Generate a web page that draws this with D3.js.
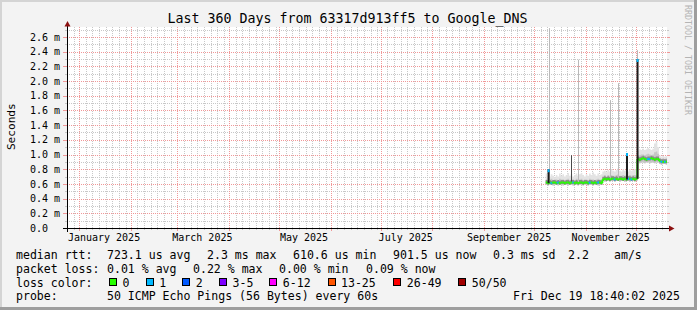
<!DOCTYPE html>
<html><head><meta charset="utf-8">
<script src="https://cdn.jsdelivr.net/npm/d3@7"></script>
<style>
html,body{margin:0;padding:0;background:#f3f3f3;}
svg{display:block;}
text{font-family:"DejaVu Sans Mono",monospace;fill:#000;}
</style></head><body>
<svg id="c" width="697" height="310"></svg>
<script>
// ---------------- DATA ----------------
const titleText = "Last 360 Days from 63317d913ff5 to Google_DNS";
const yAxisTitle = "Seconds";
const watermark = "RRDTOOL / TOBI OETIKER";
const rangeStart = "2024-12-24T18:40:02Z";
const rangeEnd = "2025-12-19T18:40:02Z";
const dataEnd = "2025-12-19T18:00:00Z";

const yTickValues = [0, 0.2, 0.4, 0.6, 0.8, 1.0, 1.2, 1.4, 1.6, 1.8, 2.0, 2.2, 2.4, 2.6];
const yTickLabels = ["0.0", "0.2 m", "0.4 m", "0.6 m", "0.8 m", "1.0 m", "1.2 m", "1.4 m", "1.6 m", "1.8 m", "2.0 m", "2.2 m", "2.4 m", "2.6 m"];

const days = [
 "2025-10-08","2025-10-09","2025-10-10","2025-10-11","2025-10-12","2025-10-13","2025-10-14","2025-10-15",
 "2025-10-16","2025-10-17","2025-10-18","2025-10-19","2025-10-20","2025-10-21","2025-10-22","2025-10-23",
 "2025-10-24","2025-10-25","2025-10-26","2025-10-27","2025-10-28","2025-10-29","2025-10-30","2025-10-31",
 "2025-11-01","2025-11-02","2025-11-03","2025-11-04","2025-11-05","2025-11-06","2025-11-07","2025-11-08",
 "2025-11-09","2025-11-10","2025-11-11","2025-11-12","2025-11-13","2025-11-14","2025-11-15","2025-11-16",
 "2025-11-17","2025-11-18","2025-11-19","2025-11-20","2025-11-21","2025-11-22","2025-11-23","2025-11-24",
 "2025-11-25","2025-11-26","2025-11-27","2025-11-28","2025-11-29","2025-11-30","2025-12-01","2025-12-02",
 "2025-12-03","2025-12-04","2025-12-05","2025-12-06","2025-12-07","2025-12-08","2025-12-09","2025-12-10",
 "2025-12-11","2025-12-12","2025-12-13","2025-12-14","2025-12-15","2025-12-16","2025-12-17","2025-12-18",
 "2025-12-19"];

// median rtt (ms)
const median = [
 0.62,0.61,0.62,0.61,0.62,0.62,0.61,0.62,0.61,0.62,0.62,0.61,0.62,0.62,0.61,0.62,0.62,0.61,0.62,0.61,
 0.62,0.62,0.61,0.62,0.62,0.61,0.62,0.62,0.61,0.62,0.61,0.62,0.62,0.61,
 0.66,0.67,0.66,0.67,0.66,0.67,0.67,0.66,0.67,0.66,0.67,0.67,0.66,0.67,0.66,0.67,0.67,0.66,0.67,0.66,
 0.67,
 0.94,0.93,0.94,0.95,0.94,0.93,0.94,0.94,0.95,0.94,0.93,0.94,0.94,
 0.91,0.90,0.90,0.90,0.90];

// lost pings (of 50) per day
const loss = [
 0,0,0,1,0,0,0,1,0,0,0,0,0,0,0,0,1,0,0,0,0,0,0,0,0,0,1,0,0,0,0,1,0,0,
 0,0,0,0,0,0,0,1,0,0,0,0,0,0,0,1,0,1,0,0,
 0,
 0,0,0,0,0,0,1,1,0,0,0,0,0,
 0,1,0,1,0];

// smoke extents (ms)
const smokeLo = [
 0.59,0.58,0.59,0.59,0.58,0.59,0.59,0.58,0.59,0.59,0.58,0.59,0.59,0.58,0.59,0.59,0.58,0.59,0.59,0.58,
 0.59,0.59,0.58,0.59,0.59,0.58,0.59,0.59,0.58,0.59,0.59,0.58,0.59,0.59,
 0.64,0.63,0.64,0.64,0.63,0.64,0.64,0.63,0.64,0.64,0.63,0.64,0.64,0.63,0.64,0.64,0.63,0.64,0.64,0.63,
 0.64,
 0.89,0.88,0.89,0.89,0.88,0.89,0.89,0.88,0.89,0.89,0.88,0.89,0.89,
 0.87,0.86,0.87,0.87,0.86];
const smokeMid = [
 0.66,0.65,0.66,0.67,0.65,0.66,0.66,0.65,0.67,0.66,0.66,0.65,0.66,0.67,0.65,0.66,0.66,0.65,0.67,0.66,
 0.66,0.67,0.65,0.66,0.66,0.65,0.67,0.66,0.66,0.65,0.66,0.67,0.66,0.65,
 0.71,0.72,0.70,0.72,0.71,0.72,0.71,0.71,0.72,0.73,0.71,0.71,0.72,0.71,0.72,0.71,0.72,0.71,0.72,0.72,
 0.72,
 0.99,0.99,1.00,1.00,0.99,1.00,1.01,1.00,0.99,1.00,1.03,1.04,1.01,
 0.95,0.94,0.95,0.94,0.95];
const smokeHi = [
 0.74,0.72,0.70,0.73,0.71,0.69,0.72,0.70,0.74,0.71,0.73,0.70,0.72,0.75,0.71,0.73,0.70,0.72,0.74,0.71,
 0.73,0.75,0.72,0.70,0.73,0.71,0.74,0.72,0.76,0.73,0.71,0.74,0.72,0.73,
 0.77,0.78,0.76,0.79,0.77,0.80,0.78,0.77,0.79,0.81,0.78,0.77,0.80,0.78,0.79,0.77,0.80,0.78,0.79,0.80,
 0.80,
 1.05,1.07,1.06,1.08,1.06,1.07,1.09,1.07,1.06,1.08,1.15,1.17,1.10,
 0.99,0.97,0.98,0.97,0.98];

// thin max-ping lines (light smoke spikes)
const maxLineTimes = ["2025-10-09T23:00:00Z","2025-10-27T12:00:00Z","2025-11-15T12:00:00Z","2025-11-20T06:00:00Z","2025-12-01T18:00:00Z"];
const maxLineValues = [2.72, 2.29, 1.74, 1.97, 2.42];
// dense (dark) thin lines
const denseLineTimes = ["2025-10-23T06:00:00Z"];
const denseLineValues = [0.99];
// median spikes (dark bars with loss-coloured cap)
const spikeTimes = ["2025-10-09T03:00:00Z","2025-11-25T04:00:00Z","2025-12-01T12:00:00Z"];
const spikeValues = [0.80, 1.02, 2.30];
const spikeLoss = [1, 1, 1];

const lossLabels = ["0", "1", "2", "3-5", "6-12", "13-25", "26-49", "50/50"];
const lossColors = ["#26ff00", "#00b8ff", "#0059ff", "#7e00ff", "#ff00ff", "#ff5500", "#ff0000", "#a10000"];
const lossThresholds = [0, 1, 2, 3, 6, 13, 26, 50];

const rttRow = ["median rtt:", "723.1 us avg", "2.3 ms max", "610.6 us min", "901.5 us now", "0.3 ms sd", "2.2", "am/s"];
const lossRow = ["packet loss:", "0.01 % avg", "0.22 % max", "0.00 % min", "0.09 % now"];
const lossColorLabel = "loss color:";
const probeRow = ["probe:", "50 ICMP Echo Pings (56 Bytes) every 60s", "Fri Dec 19 18:40:02 2025"];

// ---------------- LAYOUT ----------------
const W = 697, H = 310;
const X0 = 67, X1 = 667, Y0 = 228, Y1 = 27;
const rttX = [16, 107, 207, 293, 393, 493, 568, 614];
const lossX = [16, 107, 193, 279, 366];
const probeX = [16, 107, 513];
const boxX = [109, 145.7, 182.3, 219, 269.3, 327.5, 393.3, 458.3];
const rowY = [258.5, 272.5, 286.5, 300.3];

const svg = d3.select("#c");
const parseDay = d3.utcParse("%Y-%m-%d");
const tStart = new Date(rangeStart), tEnd = new Date(rangeEnd), tDataEnd = new Date(dataEnd);

const x = d3.scaleUtc().domain([tStart, tEnd]).range([X0, X1]);
const y = d3.scaleLinear().domain([0, 2.735]).range([Y0, Y1]);

function lossColor(l) {
  let idx = 0;
  lossThresholds.forEach((t, i) => { if (l >= t) idx = i; });
  return lossColors[idx];
}

// background + border
svg.append("rect").attr("x", 0).attr("y", 0).attr("width", W).attr("height", H).attr("fill", "#f3f3f3");
svg.append("rect").attr("x", 0).attr("y", 0).attr("width", W).attr("height", 2).attr("fill", "#d4d4d4");
svg.append("rect").attr("x", 0).attr("y", 0).attr("width", 2).attr("height", H).attr("fill", "#d4d4d4");
svg.append("rect").attr("x", 0).attr("y", H - 3).attr("width", W).attr("height", 3).attr("fill", "#9e9e9e");
svg.append("rect").attr("x", W - 3).attr("y", 0).attr("width", 3).attr("height", H).attr("fill", "#9e9e9e");

// canvas
svg.append("rect").attr("x", X0).attr("y", Y1).attr("width", X1 - X0).attr("height", Y0 - Y1).attr("fill", "#fff");

const GRID = "#c8c8c8", MGRID = "#f09898";
const grid = svg.append("g").attr("shape-rendering", "crispEdges");

// horizontal minor grid (every 0.1 m)
const minorY = d3.range(1, 28).map(i => i / 10).filter(v => Math.round(v * 10) % 2 === 1);
minorY.forEach(v => {
  const yy = Math.round(y(v)) + 0.5;
  grid.append("line").attr("x1", X0).attr("x2", X1).attr("y1", yy).attr("y2", yy)
    .attr("stroke", GRID).attr("stroke-dasharray", "1,1");
  grid.append("line").attr("x1", X0 - 2).attr("x2", X0).attr("y1", yy).attr("y2", yy).attr("stroke", GRID);
  grid.append("line").attr("x1", X1).attr("x2", X1 + 2).attr("y1", yy).attr("y2", yy).attr("stroke", GRID);
});
// vertical minor grid (every 4 days)
const months = d3.utcMonth.range(tStart, tEnd);
const monthKeys = new Set(months.map(d => +d));
const minorX = d3.utcDay.every(4).range(tStart, tEnd).filter(d => !monthKeys.has(+d));
minorX.forEach(d => {
  const xx = Math.round(x(d)) + 0.5;
  grid.append("line").attr("x1", xx).attr("x2", xx).attr("y1", Y1).attr("y2", Y0)
    .attr("stroke", GRID).attr("stroke-dasharray", "1,1");
  grid.append("line").attr("x1", xx).attr("x2", xx).attr("y1", Y0).attr("y2", Y0 + 2).attr("stroke", GRID);
});
// major grid
yTickValues.filter(v => v > 0).forEach(v => {
  const yy = Math.round(y(v)) + 0.5;
  grid.append("line").attr("x1", X0).attr("x2", X1).attr("y1", yy).attr("y2", yy)
    .attr("stroke", MGRID).attr("stroke-dasharray", "1,1");
  grid.append("line").attr("x1", X1).attr("x2", X1 + 3).attr("y1", yy).attr("y2", yy).attr("stroke", MGRID);
});
months.forEach(d => {
  const xx = Math.round(x(d)) + 0.5;
  grid.append("line").attr("x1", xx).attr("x2", xx).attr("y1", Y1).attr("y2", Y0)
    .attr("stroke", MGRID).attr("stroke-dasharray", "1,1");
  grid.append("line").attr("x1", xx).attr("x2", xx).attr("y1", Y0).attr("y2", Y0 + 3).attr("stroke", MGRID);
});

// ---------------- DATA MARKS ----------------
const dayData = days.map((s, i) => ({
  t0: parseDay(s),
  t1: i < days.length - 1 ? parseDay(days[i + 1]) : tDataEnd,
  med: median[i], loss: loss[i], lo: smokeLo[i], mid: smokeMid[i], hi: smokeHi[i]
}));
const stepPts = dayData.map(d => ({ t: d.t0, lo: d.lo, mid: d.mid, hi: d.hi, med: d.med }));
const last = dayData[dayData.length - 1];
stepPts.push({ t: last.t1, lo: last.lo, mid: last.mid, hi: last.hi, med: last.med });

const marks = svg.append("g");
marks.append("path").datum(stepPts)
  .attr("d", d3.area().x(d => x(d.t)).y0(d => y(d.lo)).y1(d => y(d.hi)).curve(d3.curveStepAfter))
  .attr("fill", "#e3e3e3");
marks.append("path").datum(stepPts)
  .attr("d", d3.area().x(d => x(d.t)).y0(d => y(d.lo)).y1(d => y(d.mid)).curve(d3.curveStepAfter))
  .attr("fill", "#c6c6c6");
marks.append("path").datum(stepPts)
  .attr("d", d3.area().x(d => x(d.t)).y0(d => y(d.med) + 1.5).y1(d => y(d.med) - 2.5).curve(d3.curveStepAfter))
  .attr("fill", "#8a8a8a");

function medAt(t) {
  const dd = dayData.find(d => t >= d.t0 && t < d.t1);
  return dd ? dd.med : median[median.length - 1];
}

// thin max lines
marks.selectAll("line.max").data(maxLineTimes.map((t, i) => ({ t: new Date(t), v: maxLineValues[i] })))
  .join("line").attr("class", "max")
  .attr("x1", d => Math.round(x(d.t)) + 0.5).attr("x2", d => Math.round(x(d.t)) + 0.5)
  .attr("y1", d => y(d.v)).attr("y2", d => y(medAt(d.t)))
  .attr("stroke", "#b9b9b9").attr("stroke-width", 1);
marks.selectAll("line.dense").data(denseLineTimes.map((t, i) => ({ t: new Date(t), v: denseLineValues[i] })))
  .join("line").attr("class", "dense")
  .attr("x1", d => Math.round(x(d.t)) + 0.5).attr("x2", d => Math.round(x(d.t)) + 0.5)
  .attr("y1", d => y(d.v)).attr("y2", d => y(medAt(d.t)))
  .attr("stroke", "#4a4a4a").attr("stroke-width", 1);

// median line
const medG = svg.append("g");
dayData.forEach((d, i) => {
  const c = lossColor(d.loss);
  if (i > 0 && dayData[i - 1].med !== d.med) {
    medG.append("line").attr("x1", x(d.t0)).attr("x2", x(d.t0))
      .attr("y1", y(dayData[i - 1].med)).attr("y2", y(d.med))
      .attr("stroke", c).attr("stroke-width", 2);
  }
  medG.append("line").attr("x1", x(d.t0)).attr("x2", x(d.t1))
    .attr("y1", y(d.med)).attr("y2", y(d.med))
    .attr("stroke", c).attr("stroke-width", 2);
});

// median spikes
const spikes = spikeTimes.map((t, i) => ({ t: new Date(t), v: spikeValues[i], l: spikeLoss[i] }));
medG.selectAll("rect.sp").data(spikes).join("rect").attr("class", "sp")
  .attr("x", d => x(d.t)).attr("width", 2)
  .attr("y", d => y(d.v)).attr("height", d => y(medAt(d.t)) - y(d.v))
  .attr("fill", "#1c1c1c");
medG.selectAll("rect.cap").data(spikes).join("rect").attr("class", "cap")
  .attr("x", d => x(d.t)).attr("width", 2)
  .attr("y", d => y(d.v)).attr("height", 3)
  .attr("fill", d => lossColor(d.l));

// ---------------- AXES ----------------
const ax = svg.append("g").attr("shape-rendering", "crispEdges");
ax.append("line").attr("x1", X0 - 4).attr("x2", X1 + 2).attr("y1", Y0 + 0.5).attr("y2", Y0 + 0.5).attr("stroke", "#000");
ax.append("line").attr("x1", X0 + 0.5).attr("x2", X0 + 0.5).attr("y1", Y0 + 4).attr("y2", Y1 - 2).attr("stroke", "#000");
yTickValues.forEach(v => {
  const yy = Math.round(y(v)) + 0.5;
  ax.append("line").attr("x1", X0 - 4).attr("x2", X0).attr("y1", yy).attr("y2", yy).attr("stroke", v === 0 ? "#000" : MGRID);
});
svg.append("path").attr("d", `M${X0 + 0.5},${Y1 - 6}L${X0 - 2.5},${Y1 - 0.5}L${X0 + 3.5},${Y1 - 0.5}Z`).attr("fill", "#8b1010");
svg.append("path").attr("d", `M${X1 + 7.5},${Y0 + 0.5}L${X1 + 2},${Y0 - 2.5}L${X1 + 2},${Y0 + 3.5}Z`).attr("fill", "#8b1010");

// y labels
svg.selectAll("text.yl").data(yTickValues).join("text").attr("class", "yl")
  .attr("x", 30).attr("y", v => y(v) + 3.6)
  .attr("font-size", "10px").text((v, i) => yTickLabels[i]);

// x labels (every 2 months, centred on mid-month)
const fmt = d3.utcFormat("%B %Y");
const labelMonths = d3.utcMonth.every(2).range(tStart, tEnd);
svg.selectAll("text.xl").data(labelMonths).join("text").attr("class", "xl")
  .attr("x", d => x(d3.utcDay.offset(d, 15))).attr("y", 240.5)
  .attr("text-anchor", "middle").attr("font-size", "10px").text(d => fmt(d));

// titles
svg.append("text").attr("x", 347.5).attr("y", 23).attr("text-anchor", "middle")
  .attr("font-size", "13.3px").text(titleText);
svg.append("text").attr("transform", "translate(14.5,126.7) rotate(-90)").attr("text-anchor", "middle")
  .attr("font-size", "11.1px").text(yAxisTitle);
svg.append("text").attr("transform", "translate(684.5,5) rotate(90)")
  .attr("font-size", "8.3px").style("fill", "#b4b4b4").text(watermark);

// legend
const lg = svg.append("g").attr("font-size", "11.56px");
rttRow.forEach((s, i) => lg.append("text").attr("x", rttX[i]).attr("y", rowY[0]).text(s));
lossRow.forEach((s, i) => lg.append("text").attr("x", lossX[i]).attr("y", rowY[1]).text(s));
lg.append("text").attr("x", 16).attr("y", rowY[2]).text(lossColorLabel);
lossLabels.forEach((s, i) => {
  lg.append("rect").attr("x", boxX[i] + 0.5).attr("y", 278.5).attr("width", 7).attr("height", 7)
    .attr("fill", lossColors[i]).attr("stroke", "#000").attr("stroke-width", 1).attr("shape-rendering", "crispEdges");
  lg.append("text").attr("x", boxX[i] + 13.5).attr("y", rowY[2]).text(s);
});
probeRow.forEach((s, i) => lg.append("text").attr("x", probeX[i]).attr("y", rowY[3]).text(s));
</script>
</body></html>
